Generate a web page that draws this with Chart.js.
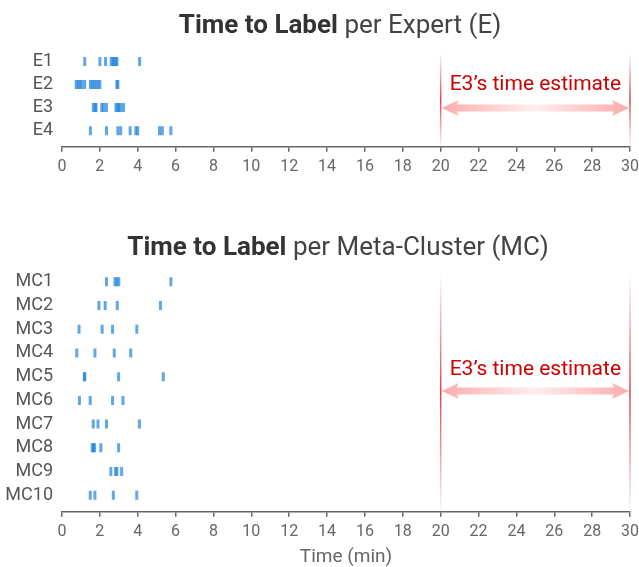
<!DOCTYPE html>
<html>
<head>
<meta charset="utf-8">
<script src="https://cdn.jsdelivr.net/npm/chart.js@4/dist/chart.umd.min.js"></script>
<style>
  html, body { margin: 0; padding: 0; background: #fff; }
  #wrap { position: relative; width: 639px; height: 567px; overflow: hidden; }
  .box { position: absolute; left: 0; width: 639px; }
  #b1 { top: 0; height: 195px; }
  #b2 { top: 195px; height: 372px; }
</style>
</head>
<body>
<div id="wrap">
  <div class="box" id="b1"><canvas id="c1" width="639" height="195"></canvas></div>
  <div class="box" id="b2"><canvas id="c2" width="639" height="372"></canvas></div>
</div>
<script>
// ---------- DATA ----------
const expertLabels = ['E1', 'E2', 'E3', 'E4'];
const E1 = [1.2, 2.0, 2.3, 2.6, 2.7, 2.75, 2.85, 2.9, 4.1];
const E2 = [0.75, 0.85, 0.95, 1.05, 1.2, 1.5, 1.6, 1.7, 1.8, 1.9, 2.0, 2.9, 2.95];
const E3 = [1.65, 1.75, 1.8, 2.1, 2.2, 2.35, 2.85, 2.95, 3.0, 3.1, 3.25];
const E4 = [1.5, 2.35, 2.95, 3.1, 3.6, 3.9, 4.0, 5.15, 5.3, 5.75];

const mcLabels = ['MC1', 'MC2', 'MC3', 'MC4', 'MC5', 'MC6', 'MC7', 'MC8', 'MC9', 'MC10'];
const MC1 = [2.35, 2.8, 2.9, 3.0, 5.75];
const MC2 = [1.95, 2.28, 2.92, 5.2];
const MC3 = [0.9, 2.12, 2.67, 3.95];
const MC4 = [0.78, 1.74, 2.76, 3.63];
const MC5 = [1.18, 1.2, 2.99, 5.35];
const MC6 = [0.92, 1.49, 2.67, 3.22];
const MC7 = [1.65, 1.9, 2.35, 4.09];
const MC8 = [1.6, 1.66, 1.72, 2.05, 2.99];
const MC9 = [2.58, 2.83, 2.9, 3.15];
const MC10 = [1.49, 1.74, 2.71, 3.95];

const xTicks = [0, 2, 4, 6, 8, 10, 12, 14, 16, 18, 20, 22, 24, 26, 28, 30];
const estimateRange = [20, 30];
const estimateLabel = 'E3\u2019s time estimate';
const xAxisTitle = 'Time (min)';

// ---------- HELPERS ----------
const MARK = 'rgba(30,130,220,0.7)';
function toPoints(rows) {
  const pts = [];
  rows.forEach((vals, i) => vals.forEach(v => pts.push({ x: v, y: i })));
  return pts;
}

const titlePlugin = {
  id: 'mixTitle',
  afterDraw(chart, args, opts) {
    const ctx = chart.ctx;
    ctx.save();
    ctx.textBaseline = 'alphabetic';
    ctx.font = '700 26px Roboto';
    const wb = ctx.measureText(opts.bold).width;
    ctx.font = '400 26px Roboto';
    const wr = ctx.measureText(opts.regular).width;
    const total = wb + wr;
    let x = opts.cx - total / 2;
    ctx.textAlign = 'left';
    ctx.font = '700 26px Roboto';
    ctx.fillStyle = '#333';
    ctx.fillText(opts.bold, x, opts.y);
    ctx.font = '400 26px Roboto';
    ctx.fillStyle = '#444';
    ctx.fillText(opts.regular, x + wb, opts.y);
    ctx.restore();
  }
};

const estimatePlugin = {
  id: 'estimate',
  afterDatasetsDraw(chart, args, opts) {
    const ctx = chart.ctx;
    const xs = chart.scales.x;
    const a = chart.chartArea;
    const x1 = xs.getPixelForValue(estimateRange[0]);
    const x2 = xs.getPixelForValue(estimateRange[1]);
    ctx.save();
    // vertical fading lines
    const y0 = a.top + 3, y1 = a.bottom - 1;
    const g = ctx.createLinearGradient(0, y0, 0, y1);
    g.addColorStop(0, 'rgba(200,40,40,0)');
    g.addColorStop(0.5, 'rgba(200,40,40,0.85)');
    g.addColorStop(1, 'rgba(200,40,40,0.05)');
    ctx.strokeStyle = g;
    ctx.lineWidth = 1.5;
    [x1, x2].forEach(x => {
      ctx.beginPath();
      ctx.moveTo(x, y0);
      ctx.lineTo(x, y1);
      ctx.stroke();
    });
    // double arrow
    const ay = a.top + opts.arrowDy;
    const hl = 18, hh = 8, sh = 3.5;
    const ag = ctx.createLinearGradient(x1, 0, x2, 0);
    ag.addColorStop(0, 'rgba(255,170,170,1)');
    ag.addColorStop(0.5, 'rgba(255,238,238,1)');
    ag.addColorStop(1, 'rgba(255,170,170,1)');
    ctx.fillStyle = ag;
    ctx.beginPath();
    ctx.moveTo(x1 + 1, ay);
    ctx.lineTo(x1 + hl, ay - hh);
    ctx.lineTo(x1 + hl - 2, ay - sh);
    ctx.lineTo(x2 - hl + 2, ay - sh);
    ctx.lineTo(x2 - hl, ay - hh);
    ctx.lineTo(x2 - 1, ay);
    ctx.lineTo(x2 - hl, ay + hh);
    ctx.lineTo(x2 - hl + 2, ay + sh);
    ctx.lineTo(x1 + hl - 2, ay + sh);
    ctx.lineTo(x1 + hl, ay + hh);
    ctx.closePath();
    ctx.fill();
    // label with white halo
    const ty = a.top + opts.textDy;
    const tx = (x1 + x2) / 2;
    ctx.font = '400 21px Roboto';
    ctx.textAlign = 'center';
    ctx.textBaseline = 'middle';
    ctx.lineJoin = 'round';
    ctx.strokeStyle = '#fff';
    ctx.lineWidth = 4;
    ctx.strokeText(estimateLabel, tx, ty);
    ctx.fillStyle = '#cc0000';
    ctx.fillText(estimateLabel, tx, ty);
    ctx.restore();
  }
};

function makeChart(canvasId, labels, rows, cfg) {
  const n = labels.length;
  return new Chart(document.getElementById(canvasId), {
    type: 'scatter',
    data: {
      datasets: [{
        data: toPoints(rows),
        pointStyle: 'line',
        rotation: 90,
        radius: 4.5,
        hoverRadius: 4.5,
        borderWidth: 3,
        borderColor: MARK,
        backgroundColor: MARK
      }]
    },
    plugins: [titlePlugin, estimatePlugin],
    options: {
      responsive: false,
      animation: false,
      events: [],
      layout: { padding: { top: cfg.padTop, left: 0, right: 9, bottom: cfg.padBottom } },
      plugins: {
        legend: { display: false },
        tooltip: { enabled: false },
        title: { display: false },
        mixTitle: cfg.title,
        estimate: cfg.estimate
      },
      scales: {
        x: {
          type: 'linear',
          min: 0,
          max: 30,
          afterBuildTicks: s => { s.ticks = xTicks.map(v => ({ value: v })); },
          afterFit: s => { s.paddingRight = 0; s.paddingLeft = 0; },
          ticks: {
            color: '#666',
            font: { family: 'Roboto', size: 16 },
            padding: 6,
            maxRotation: 0,
            autoSkip: false
          },
          grid: { display: true, drawOnChartArea: false, drawTicks: true, tickLength: 5, color: '#666', lineWidth: 1.5 },
          border: { display: true, color: '#666', width: 1.5 },
          title: cfg.xTitle ? {
            display: true,
            text: xAxisTitle,
            color: '#666',
            font: { family: 'Roboto', size: 19, lineHeight: 1.0 },
            padding: { top: 0, bottom: 0 }
          } : { display: false }
        },
        y: {
          type: 'linear',
          reverse: true,
          min: -0.5,
          max: n - 1 + 0.7,
          afterBuildTicks: s => { s.ticks = labels.map((l, i) => ({ value: i })); },
          afterFit: s => { s.width = 62; },
          ticks: {
            color: '#555',
            font: { family: 'Roboto', size: 18 },
            padding: 9,
            autoSkip: false,
            callback: (v) => labels[v]
          },
          grid: { display: false, drawTicks: false },
          border: { display: false }
        }
      }
    }
  });
}

makeChart('c1', expertLabels, [E1, E2, E3, E4], {
  padTop: 50,
  padBottom: 12,
  xTitle: false,
  title: { bold: 'Time to Label ', regular: 'per Expert (E)', cx: 340, y: 33 },
  estimate: { textDy: 35, arrowDy: 58 }
});

makeChart('c2', mcLabels, [MC1, MC2, MC3, MC4, MC5, MC6, MC7, MC8, MC9, MC10], {
  padTop: 75,
  padBottom: 0,
  xTitle: true,
  title: { bold: 'Time to Label ', regular: 'per Meta-Cluster (MC)', cx: 338, y: 60 },
  estimate: { textDy: 100, arrowDy: 121 }
});
</script>
</body>
</html>
